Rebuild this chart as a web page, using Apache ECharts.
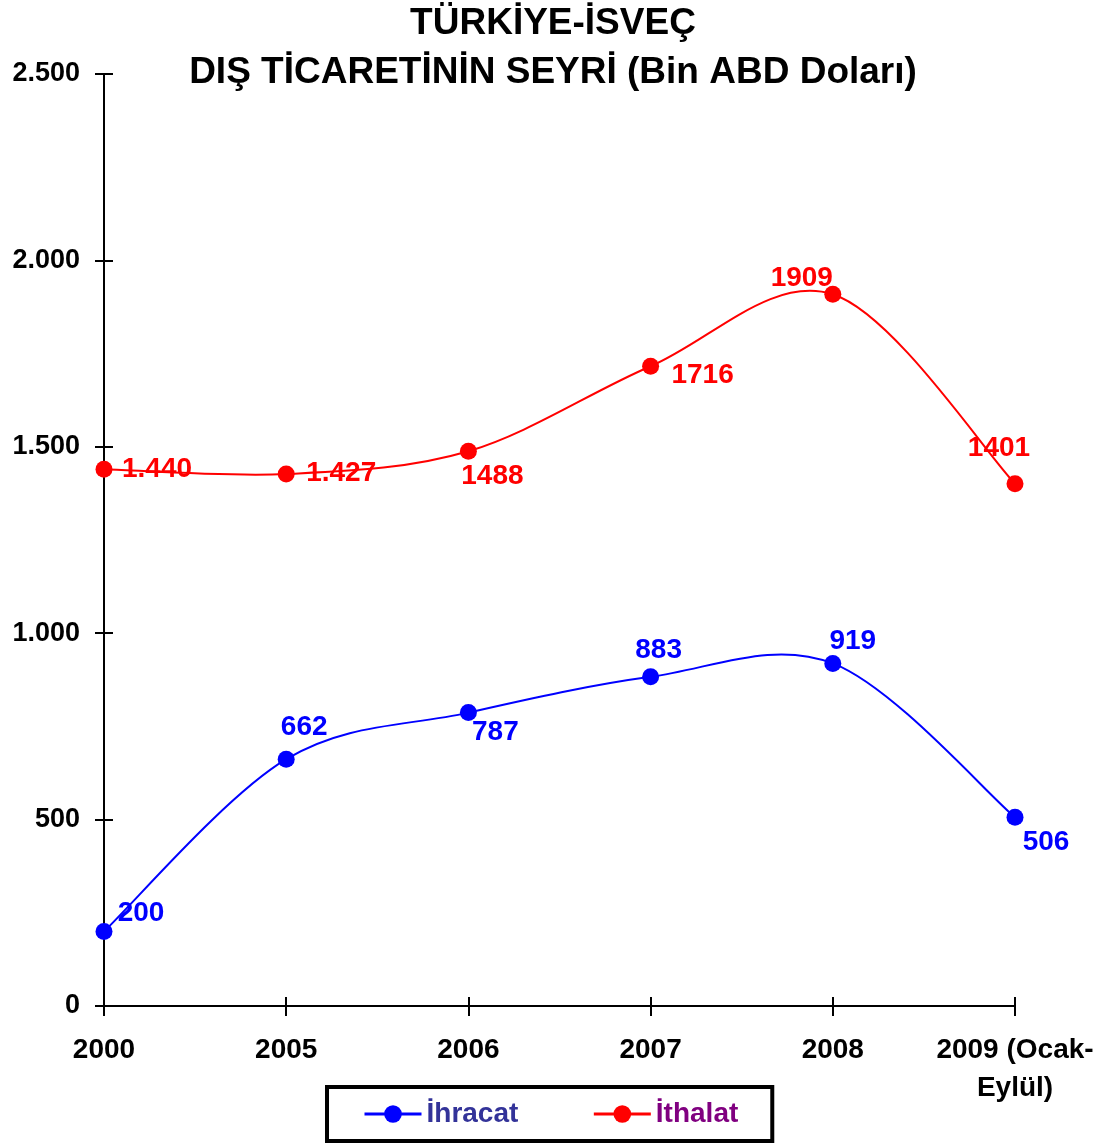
<!DOCTYPE html>
<html>
<head>
<meta charset="utf-8">
<script src="https://cdn.jsdelivr.net/npm/echarts@6/dist/echarts.min.js"></script>
<style>
html,body{margin:0;padding:0;background:#fff;}
#c{width:1106px;height:1144px;}
</style>
</head>
<body>
<div id="c"></div>
<script>
var categories = ['2000', '2005', '2006', '2007', '2008', '2009 (Ocak-\nEylül)'];
var ihracat = [200, 662, 787, 883, 919, 506];
var ithalat = [1440, 1427, 1488, 1716, 1909, 1401];
var ihracatLabels = ['200', '662', '787', '883', '919', '506'];
var ithalatLabels = ['1.440', '1.427', '1488', '1716', '1909', '1401'];
var yTicks = [0, 500, 1000, 1500, 2000, 2500];
var yTickLabels = ['0', '500', '1.000', '1.500', '2.000', '2.500'];

// label offsets (styling, separate from data)
var ihracatOffsets = [[37, -18], [18, -32], [27, 20], [8, -27], [20, -22], [31, 25]];
var ithalatOffsets = [[53, 0], [55, -1], [24, 25], [52, 9], [-31, -16], [-16, -35]];

var font = 'Liberation Sans, Arial, sans-serif';

function buildData(values, labels, offsets, color) {
  return values.map(function (v, i) {
    return {
      value: v,
      label: {
        show: true,
        position: 'inside',
        offset: offsets[i],
        formatter: labels[i],
        color: color,
        fontFamily: font,
        fontWeight: 'bold',
        fontSize: 28,
        align: 'center',
        verticalAlign: 'middle'
      }
    };
  });
}

// Excel-like smoothed curve (Catmull-Rom bezier) through the data, via axis scales
function curveSeries(name, values, color) {
  return {
    name: name,
    type: 'custom',
    coordinateSystem: 'cartesian2d',
    silent: true,
    z: 3,
    data: values.map(function (v, i) { return [i, v]; }),
    renderItem: function (params, api) {
      var i = params.dataIndex;
      var n = values.length;
      if (i >= n - 1) return null;
      function pt(k) {
        k = Math.max(0, Math.min(n - 1, k));
        return api.coord([k, values[k]]);
      }
      var p0 = pt(i - 1), p1 = pt(i), p2 = pt(i + 1), p3 = pt(i + 2);
      var t = 1 / 6;
      return {
        type: 'bezierCurve',
        shape: {
          x1: p1[0], y1: p1[1],
          x2: p2[0], y2: p2[1],
          cpx1: p1[0] + (p2[0] - p0[0]) * t,
          cpy1: p1[1] + (p2[1] - p0[1]) * t,
          cpx2: p2[0] - (p3[0] - p1[0]) * t,
          cpy2: p2[1] - (p3[1] - p1[1]) * t
        },
        style: {stroke: color, lineWidth: 2, fill: null}
      };
    }
  };
}

var chart = echarts.init(document.getElementById('c'), null, {renderer: 'canvas'});
var option = {
  backgroundColor: '#ffffff',
  animation: false,
  title: {
    text: 'TÜRKİYE-İSVEÇ\nDIŞ TİCARETİNİN SEYRİ (Bin ABD Doları)',
    left: 553,
    top: -1,
    padding: 0,
    textAlign: 'center',
    textStyle: {
      fontFamily: font,
      fontWeight: 'bold',
      fontSize: 37,
      lineHeight: 49,
      color: '#000'
    }
  },
  legend: {
    left: 327,
    top: 1087,
    padding: [13, 34, 13, 36],
    itemGap: 74,
    itemWidth: 57,
    itemHeight: 22,
    borderColor: '#000',
    borderWidth: 4,
    backgroundColor: '#fff',
    lineStyle: {width: 3, opacity: 1},
    textStyle: {fontFamily: font, fontWeight: 'bold', fontSize: 28},
    data: [
      {name: 'İhracat', textStyle: {color: '#333399'}},
      {name: 'İthalat', textStyle: {color: '#800080'}}
    ]
  },
  grid: {left: 104, right: 91, top: 74, bottom: 138, containLabel: false},
  xAxis: [{
    type: 'category',
    data: categories,
    boundaryGap: false,
    axisLine: {lineStyle: {color: '#000', width: 2}},
    axisTick: {show: true, length: 10, alignWithLabel: true, lineStyle: {color: '#000', width: 2}},
    axisLabel: {
      interval: 0,
      margin: 25,
      color: '#000',
      fontFamily: font,
      fontWeight: 'bold',
      fontSize: 28,
      lineHeight: 38
    },
    splitLine: {show: false}
  }, {
    type: 'category',
    data: categories,
    boundaryGap: false,
    position: 'bottom',
    axisLine: {show: false},
    axisTick: {show: true, inside: true, length: 9, lineStyle: {color: '#000', width: 2}},
    axisLabel: {show: false},
    splitLine: {show: false}
  }],
  yAxis: [{
    type: 'value',
    min: 0,
    max: 2500,
    interval: 500,
    axisLine: {show: true, lineStyle: {color: '#000', width: 2}},
    axisTick: {show: true, length: 9, lineStyle: {color: '#000', width: 2}},
    axisLabel: {
      margin: 24,
      color: '#000',
      fontFamily: font,
      fontWeight: 'bold',
      fontSize: 27,
      formatter: function (v) {
        var i = yTicks.indexOf(v);
        return i >= 0 ? yTickLabels[i] : '';
      }
    },
    splitLine: {show: false}
  }, {
    type: 'value',
    min: 0,
    max: 2500,
    interval: 500,
    position: 'left',
    axisLine: {show: false},
    axisTick: {show: true, inside: true, length: 9, lineStyle: {color: '#000', width: 2}},
    axisLabel: {show: false},
    splitLine: {show: false}
  }],
  series: [
    curveSeries('İhracat eğri', ihracat, '#0000FF'),
    curveSeries('İthalat eğri', ithalat, '#FF0000'),
    {
      name: 'İhracat',
      type: 'line',
      data: buildData(ihracat, ihracatLabels, ihracatOffsets, '#0000FF'),
      symbol: 'circle',
      symbolSize: 17,
      lineStyle: {color: '#0000FF', width: 2, opacity: 0},
      itemStyle: {color: '#0000FF'},
      z: 5
    }, {
      name: 'İthalat',
      type: 'line',
      data: buildData(ithalat, ithalatLabels, ithalatOffsets, '#FF0000'),
      symbol: 'circle',
      symbolSize: 17,
      lineStyle: {color: '#FF0000', width: 2, opacity: 0},
      itemStyle: {color: '#FF0000'},
      z: 5
    }
  ]
};
chart.setOption(option);
</script>
</body>
</html>
